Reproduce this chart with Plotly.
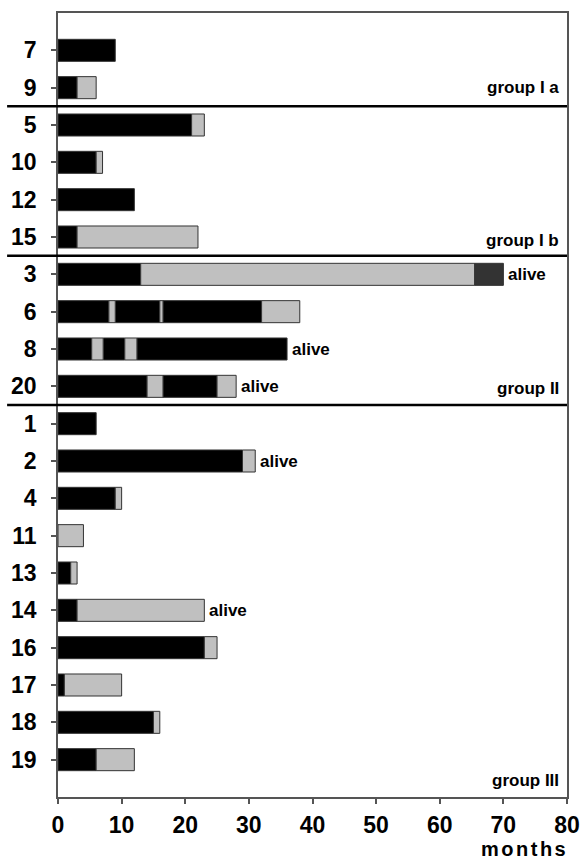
import plotly.graph_objects as go

# Patients in display order (top to bottom)
patients = [7, 9, 5, 10, 12, 15, 3, 6, 8, 20, 1, 2, 4, 11, 13, 14, 16, 17, 18, 19]

# Treatment timeline segments (months): patient, start, end, state
seg_patient = [7,
               9, 9,
               5, 5,
               10, 10,
               12,
               15, 15,
               3, 3, 3,
               6, 6, 6, 6, 6, 6,
               8, 8, 8, 8, 8,
               20, 20, 20, 20,
               1,
               2, 2,
               4, 4,
               11,
               13, 13,
               14, 14,
               16, 16,
               17, 17,
               18, 18,
               19, 19]
seg_start = [0,
             0, 3,
             0, 21,
             0, 6,
             0,
             0, 3,
             0, 13, 65.5,
             0, 8, 9, 16, 16.5, 32,
             0, 5.3, 7.1, 10.5, 12.4,
             0, 14, 16.5, 25,
             0,
             0, 29,
             0, 9,
             0,
             0, 2,
             0, 3,
             0, 23,
             0, 1,
             0, 15,
             0, 6]
seg_end = [9,
           3, 6,
           21, 23,
           6, 7,
           12,
           3, 22,
           13, 65.5, 70,
           8, 9, 16, 16.5, 32, 38,
           5.3, 7.1, 10.5, 12.4, 36,
           14, 16.5, 25, 28,
           6,
           29, 31,
           9, 10,
           4,
           2, 3,
           3, 23,
           23, 25,
           1, 10,
           15, 16,
           6, 12]
seg_state = ["on",
             "on", "off",
             "on", "off",
             "on", "off",
             "on",
             "on", "off",
             "on", "off", "late",
             "on", "off", "on", "off", "on", "off",
             "on", "off", "on", "off", "on",
             "on", "off", "on", "off",
             "on",
             "on", "off",
             "on", "off",
             "off",
             "on", "off",
             "on", "off",
             "on", "off",
             "on", "off",
             "on", "off",
             "on", "off"]

# Patients still alive at last follow-up
alive_patients = [3, 8, 20, 2, 14]

# Group labels and the row they sit on
group_names = ["group I a", "group I b", "group II", "group III"]
group_rows = [2.0, 6.1, 10.05, 20.55]
group_breaks = [2.5, 6.5, 10.5]

x_ticks = [0, 10, 20, 30, 40, 50, 60, 70, 80]

row_of = {p: i + 1 for i, p in enumerate(patients)}
state_colors = {"on": "#000000", "off": "#c0c0c0", "late": "#333333"}

fig = go.Figure()
for state, color in state_colors.items():
    idx = [i for i, s in enumerate(seg_state) if s == state]
    fig.add_trace(go.Bar(
        orientation="h",
        y=[row_of[seg_patient[i]] for i in idx],
        base=[seg_start[i] for i in idx],
        x=[seg_end[i] - seg_start[i] for i in idx],
        width=0.59,
        marker=dict(color=color, line=dict(color="#333333", width=1)),
        showlegend=False,
        hoverinfo="skip",
    ))

label_font = dict(family="Liberation Sans", size=17, color="#000000", weight="bold")

annotations = []
for p in alive_patients:
    end = max(e for pp, e in zip(seg_patient, seg_end) if pp == p)
    annotations.append(dict(
        x=end, y=row_of[p], xref="x", yref="y", text="alive",
        showarrow=False, xanchor="left", yanchor="middle", xshift=3,
        font=label_font,
    ))
for name, r in zip(group_names, group_rows):
    annotations.append(dict(
        x=1, y=r, xref="paper", yref="y", text=name,
        showarrow=False, xanchor="right", yanchor="middle", xshift=-6,
        font=label_font,
    ))
annotations.append(dict(
    x=1, y=-0.066, xref="paper", yref="paper",
    text='<span style="letter-spacing:2.5px">months</span>',
    showarrow=False, xanchor="right", yanchor="middle", xshift=3,
    font=dict(family="Liberation Sans", size=20, color="#000000", weight="bold"),
))

shapes = [dict(type="line", xref="paper", yref="y", x0=-0.1, x1=1, y0=b, y1=b,
               line=dict(color="#000000", width=2.5)) for b in group_breaks]

fig.update_layout(
    width=584, height=861,
    margin=dict(l=58, r=17, t=13, b=64, autoexpand=False),
    paper_bgcolor="#ffffff", plot_bgcolor="#ffffff",
    barmode="overlay",
    annotations=annotations,
    shapes=shapes,
    xaxis=dict(
        range=[0, 80], tickvals=x_ticks, ticks="outside", ticklen=5,
        tickcolor="#555555", tickwidth=1.5, showgrid=False, zeroline=False,
        showline=True, linecolor="#555555", linewidth=1.5, mirror=True,
        tickfont=dict(family="Liberation Sans", size=23, color="#000000", weight="bold"),
        ticklabelstandoff=2, automargin=False,
    ),
    yaxis=dict(
        range=[21, 0], tickvals=list(range(1, len(patients) + 1)),
        ticktext=[str(p) for p in patients], ticks="outside", ticklen=5,
        tickcolor="#555555", tickwidth=1.5, showgrid=False, zeroline=False,
        showline=True, linecolor="#555555", linewidth=1.5, mirror=True,
        tickfont=dict(family="Liberation Sans", size=23, color="#000000", weight="bold"),
        ticklabelstandoff=10, automargin=False,
    ),
)

fig.write_html("out.html")
